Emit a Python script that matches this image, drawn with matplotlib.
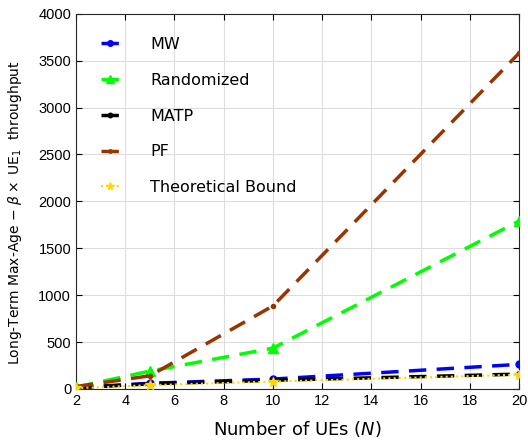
import numpy as np
import matplotlib
matplotlib.use("Agg")
import matplotlib.pyplot as plt

# data
N = [2, 5, 10, 20]
mw = [15, 60, 105, 262]
randomized = [20, 190, 435, 1790]
matp = [12, 55, 92, 158]
pf = [25, 140, 885, 3580]
bound = [8, 40, 78, 152]

series = [
    ("MW", mw, "#0000FF", "o", (5, 3), 5),
    ("Randomized", randomized, "#00FF00", "^", (5, 3), 7),
    ("MATP", matp, "#000000", "o", (5, 3), 4),
    ("PF", pf, "#993300", ".", (5, 3), 6),
    ("Theoretical Bound", bound, "#FFD700", "*", (1, 1.5), 7),
]

fig = plt.figure(figsize=(5.28, 4.45), dpi=100)
ax = fig.add_axes([0.144, 0.126, 0.839, 0.843])

for name, vals, col, mk, dash, ms in series:
    lw = 1.5 if name == "Theoretical Bound" else 2.5
    ax.plot(N, vals, color=col, marker=mk, markersize=ms, linewidth=lw,
            dashes=dash, label=name, zorder=3)

ax.set_xlim(2, 20)
ax.set_ylim(0, 4000)
ax.set_xticks(np.arange(2, 21, 2))
ax.set_yticks(np.arange(0, 4001, 500))
ax.grid(True, color="#dddddd", linewidth=0.8)
ax.tick_params(direction="in", top=True, right=True, labelsize=10.5, length=4)
for lab in ax.get_xticklabels() + ax.get_yticklabels():
    lab.set_fontfamily("Liberation Sans")
for s in ax.spines.values():
    s.set_color("#262626")

ax.set_xlabel("Number of UEs ($N$)", fontsize=13, labelpad=8)
ax.set_ylabel(r"Long-Term Max-Age $-$ $\beta\times$ UE$_1$  throughput", fontsize=10)
ax.yaxis.set_label_coords(-0.117, 0.47)

leg = ax.legend(loc="upper left", frameon=False, fontsize=11.5, labelspacing=1.3,
                handlelength=1.2, handletextpad=1.9, borderaxespad=0.3,
                bbox_to_anchor=(0.03, 0.968), markerscale=0.8)

fig.savefig("out.png", dpi=100)
